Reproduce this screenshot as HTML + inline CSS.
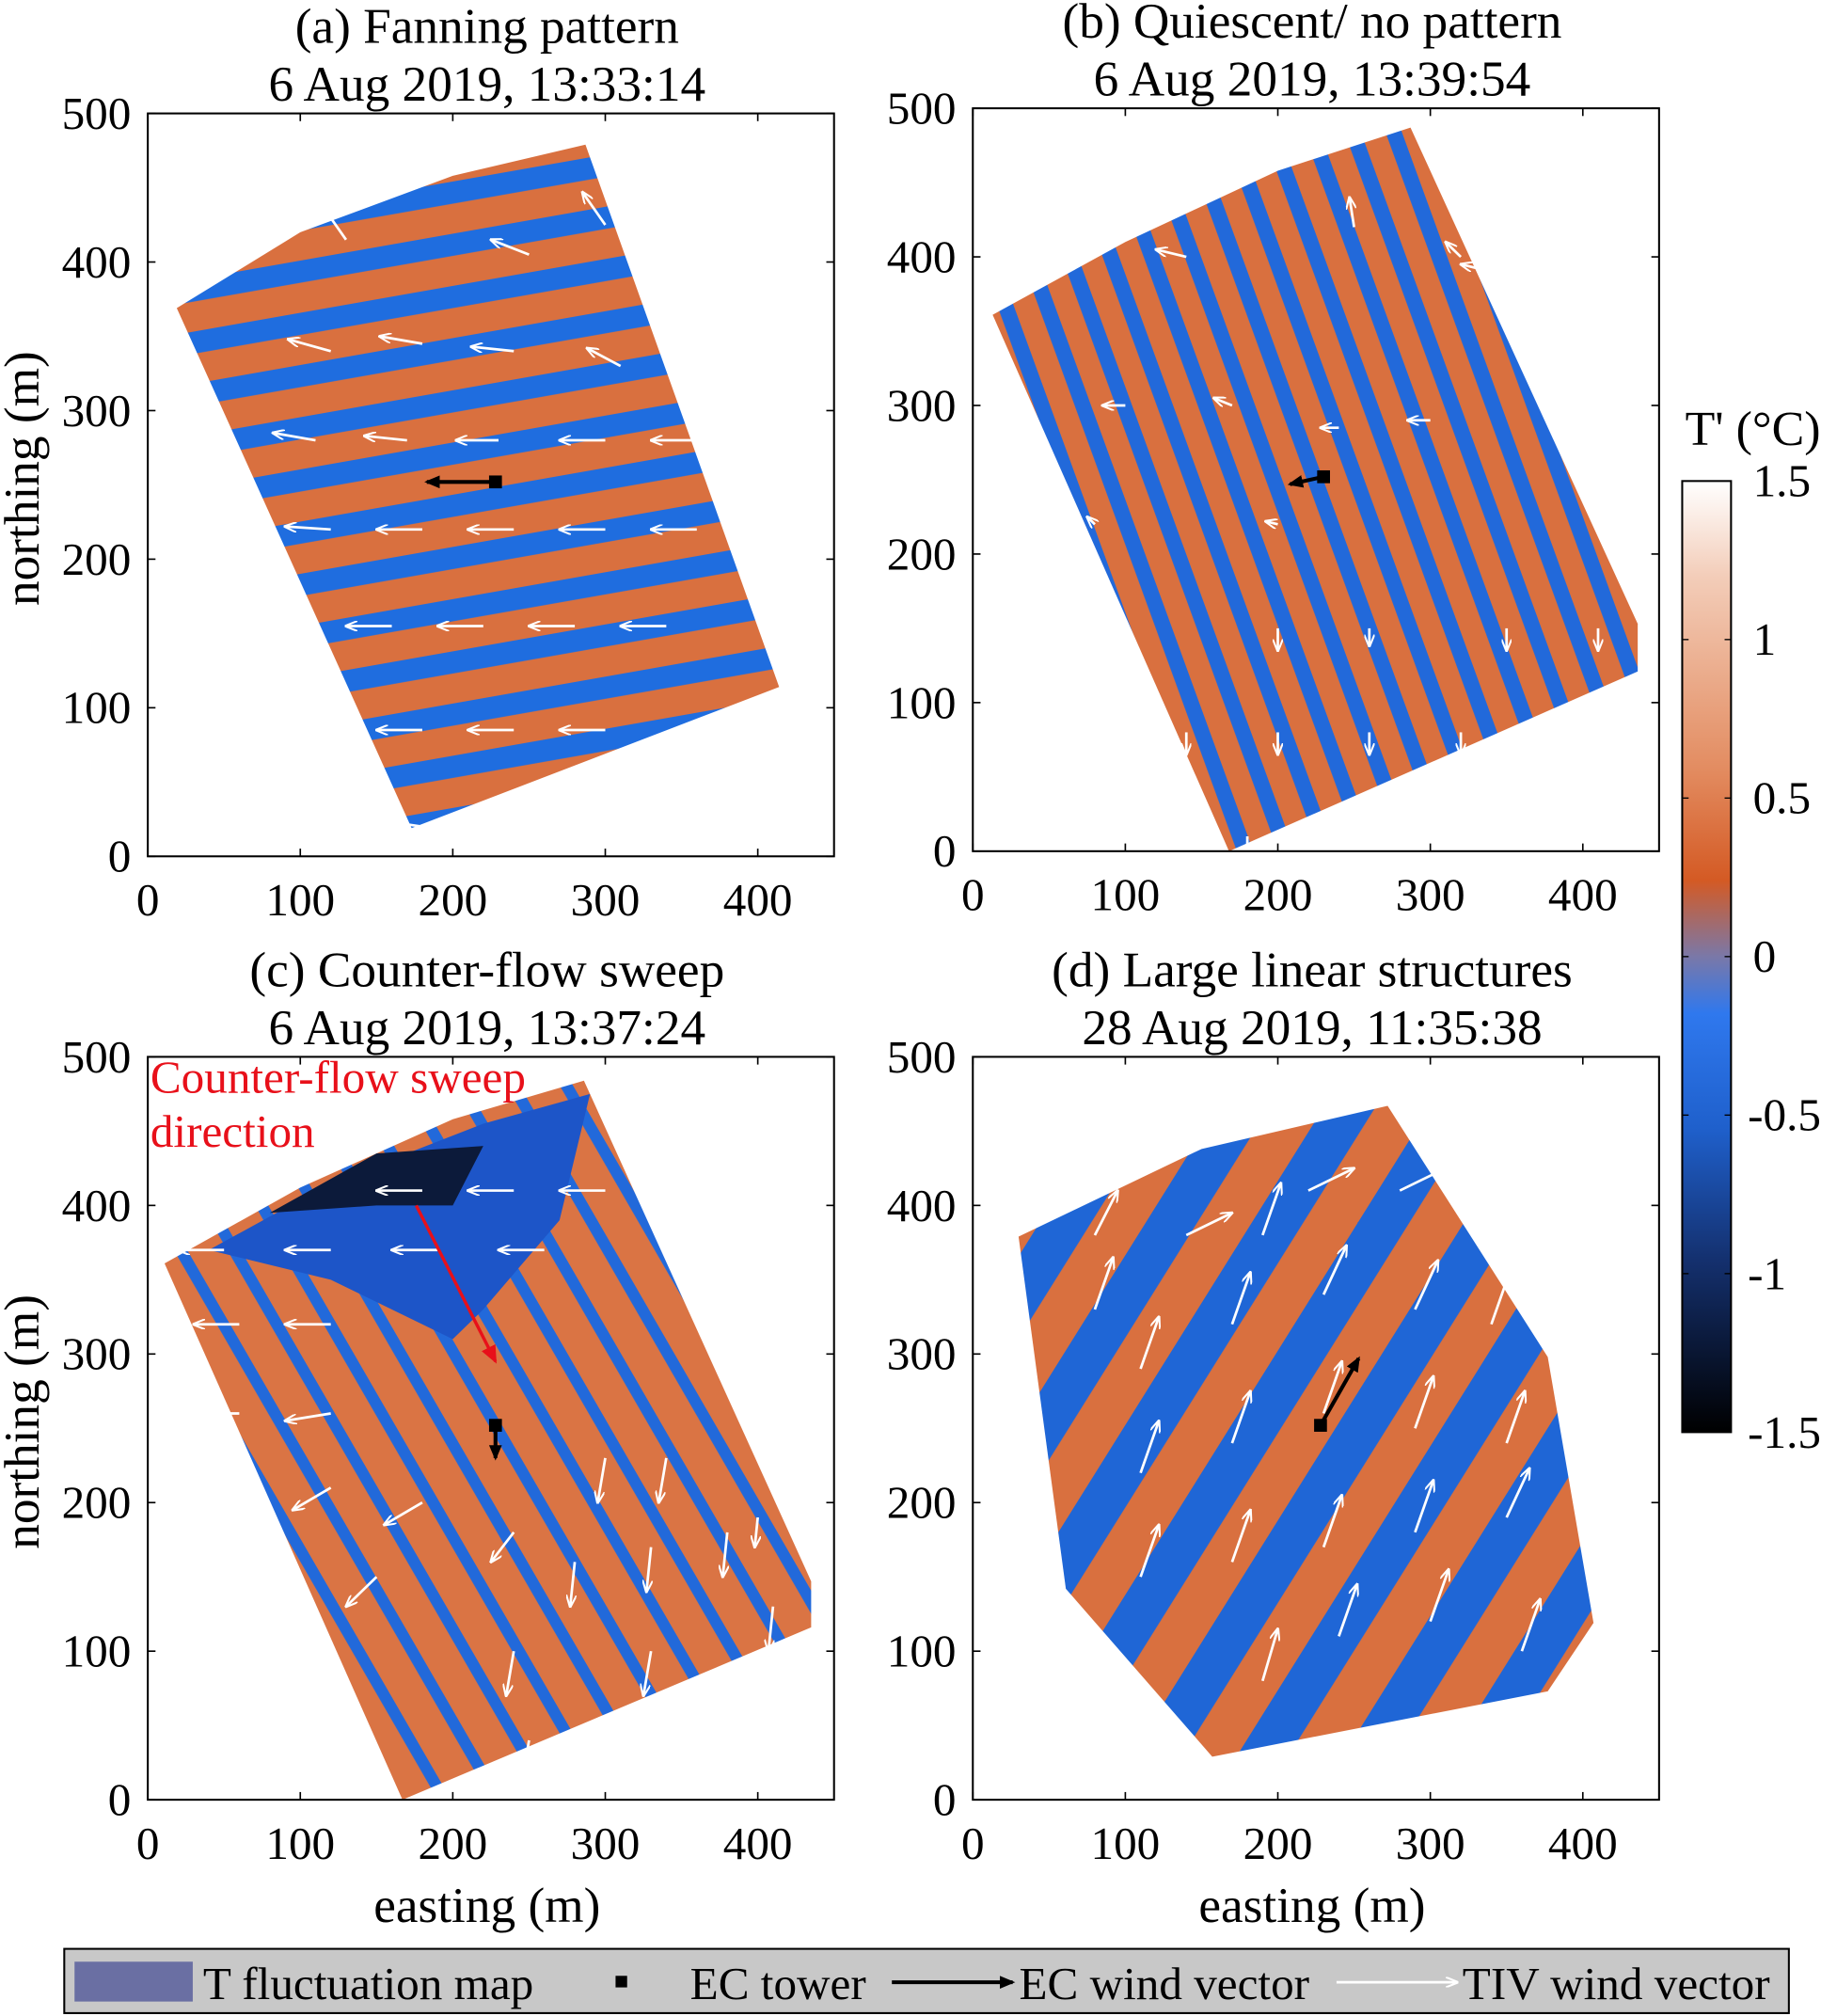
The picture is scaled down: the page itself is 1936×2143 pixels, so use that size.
<!DOCTYPE html>
<html><head><meta charset="utf-8"><style>
html,body{margin:0;padding:0;background:#fff}
svg{display:block;font-family:"Liberation Serif","DejaVu Serif",serif}
svg text{font-family:"Liberation Serif","DejaVu Serif",serif}
</style></head><body>
<svg id="fig" width="1936" height="2143" viewBox="0 0 1417 1568" xmlns="http://www.w3.org/2000/svg" font-family="Liberation Serif, serif">
<defs>
<linearGradient id="cbar" x1="0" y1="0" x2="0" y2="1">
<stop offset="0" stop-color="#ffffff"/><stop offset="0.1" stop-color="#f3cdb9"/>
<stop offset="0.3" stop-color="#e38d62"/><stop offset="0.42" stop-color="#d45a24"/>
<stop offset="0.5" stop-color="#7a78a8"/><stop offset="0.56" stop-color="#2f78ee"/>
<stop offset="0.68" stop-color="#1f60cc"/><stop offset="0.82" stop-color="#14306e"/>
<stop offset="1" stop-color="#000000"/></linearGradient>
<pattern id="stripeA" width="40" height="40" patternUnits="userSpaceOnUse" patternTransform="rotate(-10)">
<rect width="40" height="40" fill="#d9703f"/><rect y="0" width="40" height="17" fill="#1f6ddf"/></pattern>
<pattern id="stripeB" width="30" height="30" patternUnits="userSpaceOnUse" patternTransform="rotate(70)">
<rect width="30" height="30" fill="#d9703f"/><rect width="30" height="12" fill="#2269da"/></pattern>
<pattern id="stripeC" width="36" height="36" patternUnits="userSpaceOnUse" patternTransform="rotate(60)">
<rect width="36" height="36" fill="#da7444"/><rect width="36" height="9" fill="#2269da"/></pattern>
<pattern id="stripeD" width="70" height="70" patternUnits="userSpaceOnUse" patternTransform="rotate(-58)">
<rect width="70" height="70" fill="#d9703f"/><rect width="70" height="34" fill="#1f66d6"/></pattern>
<marker id="mw" markerWidth="10" markerHeight="8" refX="9" refY="4" orient="auto" markerUnits="userSpaceOnUse"><path d="M0,0 L10,4 L0,8" fill="none" stroke="#fff" stroke-width="1.5"/></marker>
<marker id="mk" markerWidth="12" markerHeight="10" refX="10" refY="5" orient="auto" markerUnits="userSpaceOnUse"><path d="M0,0 L12,5 L0,10 z" fill="#000"/></marker>
<marker id="mr" markerWidth="14" markerHeight="12" refX="12" refY="6" orient="auto" markerUnits="userSpaceOnUse"><path d="M0,0 L14,6 L0,12 z" fill="#e8101a"/></marker>
</defs>
<g id="panels"></g>
<g>
<text x="1364" y="346" font-size="38" text-anchor="middle">T' (°C)</text>
<rect x="1309" y="374" width="38" height="740" fill="url(#cbar)" stroke="#000" stroke-width="1.5"/>
<g id="cbticks" font-size="36"></g>
</g>
<g>
<rect x="50" y="1516" width="1342" height="50" fill="#c8c8c8" stroke="#000" stroke-width="1.5"/>
<rect x="58" y="1526" width="92" height="31" fill="#6a6fa3"/>
<text x="158" y="1555" font-size="36">T fluctuation map</text>
<rect x="479" y="1537" width="9" height="9" fill="#000"/>
<text x="537" y="1555" font-size="36">EC tower</text>
<line x1="694" y1="1542" x2="788" y2="1542" stroke="#000" stroke-width="3" marker-end="url(#mk)"/>
<text x="793" y="1555" font-size="36">EC wind vector</text>
<rect x="1036" y="1527" width="100" height="30" fill="#c8c8c8"/>
<line x1="1040" y1="1542" x2="1134" y2="1542" stroke="#fff" stroke-width="2" marker-end="url(#mw)"/>
<text x="1138" y="1555" font-size="36">TIV wind vector</text>
</g>
</svg>
<script>
const NS="http://www.w3.org/2000/svg";
const xTicks=[0,100,200,300,400];
const yTicks=[0,100,200,300,400,500];
const cbLabels=["1.5","1","0.5","0","-0.5","-1","-1.5"];
const titlesA=["(a) Fanning pattern","(b) Quiescent/ no pattern","(c) Counter-flow sweep","(d) Large linear structures"];
const titlesB=["6 Aug 2019, 13:33:14","6 Aug 2019, 13:39:54","6 Aug 2019, 13:37:24","28 Aug 2019, 11:35:38"];
const polyA=[[19,369],[100,420],[200,458],[287,479],[414,114],[173,19]];
const polyB=[[13,361],[100,410],[200,458],[287,487],[436,153],[436,121],[168,0]];
const polyC=[[11,361],[100,412],[200,458],[286,484],[435,147],[435,116],[167,0]];
const polyD=[[30,379],[150,438],[272,467],[377,298],[407,119],[377,73],[157,29],[61,142]];
const arrowsA=[[40,150,-30,0],[100,155,-30,0],[160,155,-30,0],[220,155,-30,0],[280,155,-30,0],[340,155,-30,0],[60,220,-30,2],[120,220,-30,2],[180,220,-30,0],[240,220,-30,0],[300,220,-30,0],[360,220,-30,0],[60,85,-30,0],[120,85,-30,0],[180,85,-30,0],[240,85,-30,0],[300,85,-30,0],[110,280,-28,5],[170,280,-28,3],[230,280,-28,0],[300,280,-30,0],[360,280,-30,0],[120,340,-28,8],[180,345,-28,5],[240,340,-28,3],[310,330,-22,12],[350,350,-18,18],[130,415,-15,22],[250,405,-25,10],[300,425,-15,22],[180,20,-20,3]];
const arrowsB=[[140,80,0,-15],[200,80,0,-15],[260,80,0,-15],[320,80,0,-15],[380,80,0,-15],[200,150,0,-15],[260,150,0,-12],[350,150,0,-15],[410,150,0,-15],[180,10,0,-20],[100,300,-15,0],[170,300,-12,5],[240,285,-12,0],[300,290,-15,0],[250,420,-3,20],[320,400,-10,10],[200,220,-8,2],[80,220,-5,5],[340,390,-20,5],[140,400,-20,5]];
const arrowsC=[[50,370,-30,0],[120,370,-30,0],[190,370,-30,0],[260,370,-30,0],[60,320,-30,0],[120,320,-30,0],[60,260,-30,0],[120,260,-30,-5],[180,410,-30,0],[240,410,-30,0],[300,410,-30,0],[300,230,-5,-30],[340,230,-5,-30],[380,180,-3,-30],[330,170,-3,-30],[280,160,-3,-30],[240,180,-15,-20],[180,200,-25,-15],[120,210,-25,-15],[90,120,-20,-20],[150,150,-20,-20],[240,100,-5,-30],[330,100,-5,-30],[410,130,-3,-30],[250,40,-5,-30],[320,60,-5,-30],[400,190,-2,-20]];
const arrowsD=[[80,330,12,35],[140,380,30,15],[220,410,30,15],[280,410,30,15],[110,290,12,35],[170,320,12,35],[230,340,15,33],[290,330,15,33],[110,220,12,35],[170,240,12,35],[230,260,12,35],[290,250,12,35],[350,240,12,35],[110,150,12,35],[170,160,12,35],[230,170,12,35],[290,180,12,35],[350,190,15,33],[190,80,10,35],[240,110,12,35],[300,120,12,35],[360,100,12,35],[80,380,15,30],[190,380,12,35],[340,320,12,35]];
const ecTower=[[228,252],[230,252],[228,252],[228,252]];
const ecVec=[[-45,0],[-22,-5],[0,-22],[25,45]];
const boxes=[[115,88],[757,84],[115,822],[757,822]];
const polys=[polyA,polyB,polyC,polyD];
const arrows=[arrowsA,arrowsB,arrowsC,arrowsD];
const fills=["url(#stripeA)","url(#stripeB)","url(#stripeC)","url(#stripeD)"];
const W=534,H=578;
const root=document.getElementById('panels');
function mk(t,a,p){const e=document.createElementNS(NS,t);for(const k in a)e.setAttribute(k,a[k]);(p||root).appendChild(e);return e;}
for(let i=0;i<4;i++){
 const [bx,by]=boxes[i];
 const sx=v=>bx+v*W/450, sy=v=>by+H-v*H/500;
 const g=mk('g',{});
 
 
 const pg=mk('polygon',{points:polys[i].map(p=>sx(p[0])+','+sy(p[1])).join(' '),fill:fills[i]},g);
 
 
 if(i==2){const dk=mk('polygon',{points:[[40,370],[120,415],[220,455],[290,475],[270,390],[220,330],[200,310],[120,350]].map(p=>sx(p[0])+','+sy(p[1])).join(' '),fill:'#1d55c8'},g);
  
  const dk2=mk('polygon',{points:[[80,395],[150,435],[220,440],[200,400],[150,400]].map(p=>sx(p[0])+','+sy(p[1])).join(' '),fill:'#0c1a3a'},g);
  }
 for(const a of arrows[i]){
  const l=mk('line',{x1:sx(a[0]),y1:sy(a[1]),x2:sx(a[0]+a[2]),y2:sy(a[1]+a[3]),stroke:'#fff','stroke-width':2,'marker-end':'url(#mw)'},g);
  
  
 }
 const [tx,ty]=ecTower[i],[u,v]=ecVec[i];
 const el=mk('line',{x1:sx(tx),y1:sy(ty),x2:sx(tx+u),y2:sy(ty+v),stroke:'#000','stroke-width':3,'marker-end':'url(#mk)'},g);
 
 
 const tw=mk('rect',{x:sx(tx)-5,y:sy(ty)-5,width:10,height:10,fill:'#000'},g);
 
 
 if(i==2){
  const ra=mk('line',{x1:sx(176),y1:sy(400),x2:sx(228),y2:sy(295),stroke:'#e8101a','stroke-width':2.5,'marker-end':'url(#mr)'},g);
  
  const t1=mk('text',{x:bx+2,y:by+28,'font-size':36,fill:'#e8101a'},g);t1.textContent='Counter-flow sweep';
  
  const t2=mk('text',{x:bx+2,y:by+70,'font-size':36,fill:'#e8101a'},g);t2.textContent='direction';
  
 }
 const fr=mk('rect',{x:bx,y:by,width:W,height:H,fill:'none',stroke:'#000','stroke-width':1.5},g);
 
 for(const t of xTicks){const x=sx(t);
  mk('line',{x1:x,y1:by+H,x2:x,y2:by+H-6,stroke:'#000','stroke-width':1.2},g);
  mk('line',{x1:x,y1:by,x2:x,y2:by+6,stroke:'#000','stroke-width':1.2},g);
  const tl=mk('text',{x:x,y:by+H+46,'font-size':36,'text-anchor':'middle'},g);tl.textContent=t;
  }
 for(const t of yTicks){const y=sy(t);
  mk('line',{x1:bx,y1:y,x2:bx+6,y2:y,stroke:'#000','stroke-width':1.2},g);
  mk('line',{x1:bx+W,y1:y,x2:bx+W-6,y2:y,stroke:'#000','stroke-width':1.2},g);
  const tl=mk('text',{x:bx-13,y:y+12,'font-size':36,'text-anchor':'end'},g);tl.textContent=t;
  }
 const cx=bx+W/2-3;
 const ta=mk('text',{x:cx,y:by-55,'font-size':39,'text-anchor':'middle'},g);ta.textContent=titlesA[i];
 
 const tb=mk('text',{x:cx,y:by-10,'font-size':39,'text-anchor':'middle'},g);tb.textContent=titlesB[i];
 
 if(i%2==0){const yl=mk('text',{x:0,y:0,'font-size':39,'text-anchor':'middle',transform:`translate(30,${by+H/2-5}) rotate(-90)`},g);yl.textContent='northing (m)';
  }
 if(i>=2){const xl=mk('text',{x:cx,y:by+H+95,'font-size':39,'text-anchor':'middle'},g);xl.textContent='easting (m)';
  }
}
const cb=document.getElementById('cbticks');
cbLabels.forEach((s,k)=>{const y=374+k*740/6;
 mk('line',{x1:1309,y1:y,x2:1314,y2:y,stroke:'#000'},cb);
 mk('line',{x1:1347,y1:y,x2:1342,y2:y,stroke:'#000'},cb);
 const t=mk('text',{x:s.startsWith('-')?1360:1364,y:y+12},cb);t.textContent=s;
 
 
});
</script>
</body></html>
